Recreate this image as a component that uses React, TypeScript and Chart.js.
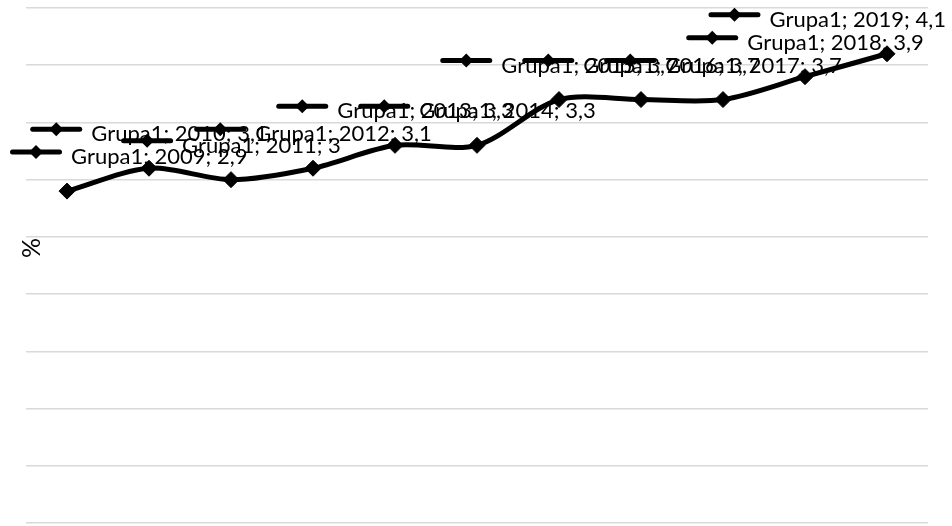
import React, { useEffect, useRef } from "react";
import { Chart, registerables } from "chart.js";

Chart.register(...registerables);

const years = ["2009", "2010", "2011", "2012", "2013", "2014", "2015", "2016", "2017", "2018", "2019"];
const values = [2.9, 3.1, 3.0, 3.1, 3.3, 3.3, 3.7, 3.7, 3.7, 3.9, 4.1];
const seriesName = "Grupa1";
const yMin = 0;
const yMax = 4.5;
const yStep = 0.5;
const axisTitle = "%";

const FONT = "Lato, 'Open Sans', sans-serif";

const fmt = (v: number) => String(v).replace(".", ",");

const labelPlugin = {
  id: "excelPointLabels",
  beforeDatasetsDraw(chart: any) {
    const ctx = chart.ctx as CanvasRenderingContext2D;
    const meta = chart.getDatasetMeta(0);
    ctx.save();
    ctx.font = `22px ${FONT}`;
    const keyW = 52;
    const gap = 9;
    const minX = 10;
    const maxX = chart.width - 6;
    meta.data.forEach((pt: any, i: number) => {
      const text = `${seriesName}; ${years[i]}; ${fmt(values[i])}`;
      const tw = ctx.measureText(text).width;
      const total = keyW + gap + tw;
      let left = pt.x - total / 2;
      if (left < minX) left = minX;
      if (left + total > maxX) left = maxX - total;
      const baseY = pt.y - 27;
      const keyY = baseY - 12;
      ctx.strokeStyle = "#000";
      ctx.lineWidth = 5;
      ctx.lineCap = "round";
      ctx.beginPath();
      ctx.moveTo(left + 2.5, keyY);
      ctx.lineTo(left + keyW - 2.5, keyY);
      ctx.stroke();
      const cx = left + keyW / 2;
      const r = 7;
      ctx.fillStyle = "#000";
      ctx.beginPath();
      ctx.moveTo(cx - r, keyY);
      ctx.lineTo(cx, keyY - r);
      ctx.lineTo(cx + r, keyY);
      ctx.lineTo(cx, keyY + r);
      ctx.closePath();
      ctx.fill();
      ctx.textAlign = "left";
      ctx.textBaseline = "alphabetic";
      ctx.fillText(text, left + keyW + gap, baseY);
    });
    ctx.restore();
  },
};

const titlePlugin = {
  id: "yTitle",
  afterDraw(chart: any) {
    const ctx = chart.ctx as CanvasRenderingContext2D;
    const area = chart.chartArea;
    ctx.save();
    ctx.translate(area.left + 6, area.top + 240);
    ctx.rotate(-Math.PI / 2);
    ctx.font = `25px ${FONT}`;
    ctx.fillStyle = "#000";
    ctx.textAlign = "center";
    ctx.textBaseline = "middle";
    ctx.fillText(axisTitle, 0, 0);
    ctx.restore();
  },
};

export default function App() {
  const canvasRef = useRef<HTMLCanvasElement | null>(null);

  useEffect(() => {
    if (!canvasRef.current) return;
    const chart = new Chart(canvasRef.current, {
      type: "line",
      data: {
        labels: years,
        datasets: [
          {
            label: seriesName,
            data: values,
            borderColor: "#000",
            backgroundColor: "#000",
            borderWidth: 5,
            borderCapStyle: "round",
            borderJoinStyle: "round",
            tension: 0.3,
            pointStyle: "rectRot",
            pointRadius: 8,
            pointBorderWidth: 1,
            pointBackgroundColor: "#000",
            pointBorderColor: "#000",
            fill: false,
            clip: false,
          },
        ],
      },
      options: {
        animation: false,
        responsive: true,
        maintainAspectRatio: false,
        layout: { autoPadding: false, padding: { left: 26, right: 24, top: 8, bottom: 3 } },
        plugins: {
          legend: { display: false },
          tooltip: { enabled: false },
          title: { display: false },
        },
        scales: {
          x: {
            display: false,
            offset: true,
          },
          y: {
            min: yMin,
            max: yMax,
            ticks: { stepSize: yStep, display: false },
            grid: { color: "#d9d9d9", lineWidth: 1.5, drawTicks: false },
            border: { display: false },
          },
        },
      },
      plugins: [labelPlugin, titlePlugin],
    });
    return () => chart.destroy();
  }, []);

  return (
    <div style={{ position: "fixed", left: 0, top: 0, width: 952, height: 526, background: "#fff" }}>
      <canvas ref={canvasRef} />
    </div>
  );
}
